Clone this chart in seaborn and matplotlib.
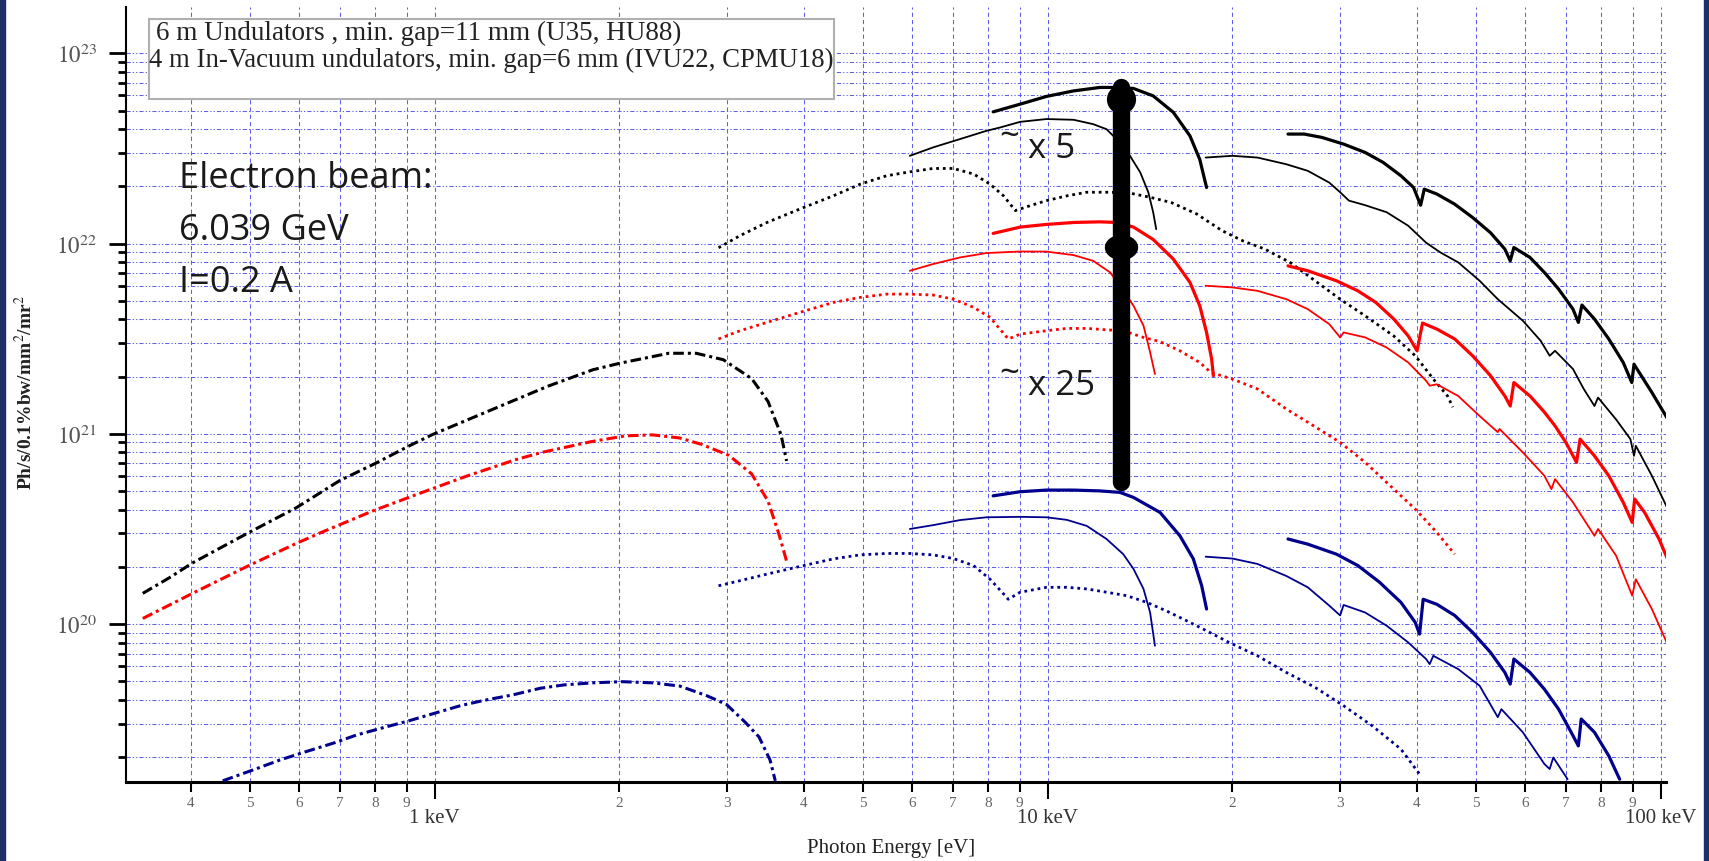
import numpy as np
import matplotlib
matplotlib.use('Agg')
import matplotlib.pyplot as plt
from matplotlib.patches import Rectangle
from matplotlib.ticker import FixedLocator, FuncFormatter, NullFormatter
import seaborn as sns

# values: photon energy [eV], brightness [Ph/s/0.1%bw/mm2/mr2]

# 6 m undulators, low energy (dash-dot)
bk_dashdot_e = [334, 370, 402, 493, 594, 700, 801, 906, 991, 1274, 1531, 1811, 2006, 2410, 2669, 2957, 3289, 3497, 3672, 3750]
bk_dashdot_b = [1.45e20, 1.76e20, 2.09e20, 2.98e20, 4.08e20, 5.68e20, 7.0e20, 8.6e20, 9.9e20, 1.39e21, 1.78e21, 2.17e21,
                2.35e21, 2.65e21, 2.65e21, 2.45e21, 1.95e21, 1.48e21, 9.9e20, 7.2e20]
rd_dashdot_e = [334, 406, 499, 594, 645, 792, 933, 1127, 1353, 1499, 1802, 2046, 2266, 2512, 2724, 3019, 3289, 3497, 3642, 3750]
rd_dashdot_b = [1.07e20, 1.47e20, 2.04e20, 2.65e20, 2.98e20, 3.93e20, 4.79e20, 5.99e20, 7.3e20, 8.0e20, 9.1e20, 9.75e20,
                9.87e20, 9.5e20, 8.8e20, 7.7e20, 6.15e20, 4.43e20, 2.98e20, 2.14e20]
bl_dashdot_e = [451, 505, 559, 612, 687, 745, 826, 907, 1000, 1103, 1207, 1343, 1487, 1626, 1811, 2022, 2266, 2512, 2780,
                2992, 3206, 3381, 3524, 3594]
bl_dashdot_b = [1.50e19, 1.71e19, 1.93e19, 2.12e19, 2.38e19, 2.61e19, 2.86e19, 3.10e19, 3.40e19, 3.73e19, 3.98e19, 4.25e19,
                4.60e19, 4.79e19, 4.91e19, 4.98e19, 4.91e19, 4.72e19, 4.2e19, 3.78e19, 3.06e19, 2.55e19, 1.93e19, 1.50e19]

# dotted curves
dot_e = [2904, 3148, 3483, 3945, 4467, 4943, 5458, 5957, 6501, 7015, 7568, 8054]
bk_dot_e = dot_e + [8472, 8854, 9354, 9954, 10740, 11580, 12640, 13620, 14690, 15920, 17500, 19230, 20850, 22600,
                    24840, 27300, 29990, 32940, 36670, 39780, 42560, 44900, 45800]
bk_dot_b = [9.5e21, 1.10e22, 1.29e22, 1.52e22, 1.78e22, 2.05e22, 2.27e22, 2.38e22, 2.48e22, 2.48e22, 2.32e22, 2.05e22,
            1.78e22, 1.49e22, 1.58e22, 1.68e22, 1.78e22, 1.86e22, 1.86e22, 1.84e22, 1.75e22, 1.64e22, 1.43e22, 1.17e22,
            1.03e22, 9.35e21, 7.96e21, 6.37e21, 5.10e21, 4.17e21, 3.27e21, 2.57e21, 1.94e21, 1.58e21, 1.38e21]
rd_dot_e = dot_e + [8356, 8621, 9016, 9954, 10740, 11580, 12470, 13280, 14320, 15250, 16430, 17700, 18460, 20010,
                    21990, 24500, 26560, 29990, 32950, 36690, 39770, 43130, 46120]
rd_dot_b = [3.15e21, 3.48e21, 3.85e21, 4.35e21, 4.90e21, 5.21e21, 5.42e21, 5.42e21, 5.36e21, 5.10e21, 4.62e21, 4.09e21,
            3.55e21, 3.15e21, 3.34e21, 3.48e21, 3.58e21, 3.58e21, 3.52e21, 3.48e21, 3.21e21, 3.05e21, 2.73e21, 2.37e21,
            2.10e21, 1.94e21, 1.72e21, 1.35e21, 1.15e21, 9.01e20, 7.08e20, 5.12e20, 4.02e20, 3.03e20, 2.33e20]
bl_dot_e = dot_e + [8472, 8621, 9016, 9954, 10740, 11580, 12470, 13450, 14510, 15640, 16860, 18160, 19750, 21990,
                    24500, 27290, 30390, 33830, 37690, 40580]
bl_dot_b = [1.59e20, 1.69e20, 1.83e20, 2.01e20, 2.20e20, 2.31e20, 2.35e20, 2.35e20, 2.31e20, 2.21e20, 2.03e20, 1.72e20,
            1.44e20, 1.35e20, 1.47e20, 1.56e20, 1.56e20, 1.53e20, 1.47e20, 1.41e20, 1.30e20, 1.17e20, 1.04e20, 9.22e19,
            8.01e19, 6.81e19, 5.57e19, 4.65e19, 3.72e19, 2.92e19, 2.20e19, 1.60e19]

# in-vacuum undulators, thick solid (8-18 keV)
thick1_e = [8147, 9016, 9954, 11020, 12160, 13120, 13800, 14860, 16030, 17060, 17700, 18160]
bk_thick1_b = [4.92e22, 5.40e22, 5.93e22, 6.34e22, 6.61e22, 6.61e22, 6.53e22, 5.97e22, 4.89e22, 3.68e22, 2.77e22, 1.97e22]
rd_thick1_e = [8147, 9016, 9954, 11020, 12160, 12970, 13800, 14860, 16030, 17060, 17700, 18160, 18510, 18630]
rd_thick1_b = [1.13e22, 1.22e22, 1.26e22, 1.29e22, 1.30e22, 1.29e22, 1.22e22, 1.05e22, 8.28e21, 6.25e21, 4.71e21,
               3.41e21, 2.47e21, 2.02e21]
bl_thick1_e = [8147, 9016, 9954, 11020, 12160, 13120, 13800, 15250, 16430, 17280, 17830, 18160]
bl_thick1_b = [4.72e20, 4.96e20, 5.06e20, 5.06e20, 5.01e20, 4.92e20, 4.63e20, 3.86e20, 2.91e20, 2.20e20, 1.59e20, 1.20e20]

# thin solid (6-15 keV)
bk_thin1_e = [5957, 6501, 7194, 7943, 8356, 9016, 9954, 11020, 11860, 12470, 12790, 13620, 14160, 14590, 14860, 15030]
bk_thin1_b = [2.89e22, 3.20e22, 3.54e22, 3.91e22, 4.07e22, 4.36e22, 4.51e22, 4.47e22, 4.24e22, 3.99e22, 3.68e22,
              2.89e22, 2.36e22, 1.86e22, 1.46e22, 1.19e22]
rd_thin1_e = [5957, 6501, 7194, 7943, 9016, 9954, 11020, 11860, 12640, 13120, 13800, 14330, 14690, 14960]
rd_thin1_b = [7.19e21, 7.80e21, 8.45e21, 8.91e21, 9.08e21, 9.07e21, 8.69e21, 8.11e21, 7.05e21, 6.00e21, 4.71e21,
              3.70e21, 2.68e21, 2.06e21]
bl_thin1_e = [5957, 6501, 7194, 7943, 9016, 9954, 10740, 11580, 12470, 13280, 13800, 14330, 14690, 14960]
bl_thin1_b = [3.16e20, 3.31e20, 3.52e20, 3.64e20, 3.66e20, 3.64e20, 3.53e20, 3.28e20, 2.80e20, 2.33e20, 1.95e20,
              1.53e20, 1.15e20, 7.69e19]

# higher harmonics, thick solid (25-100 keV)
bk_thick2_e = [24660, 26200, 28020, 30390, 32950, 35240, 37690, 39520, 40580, 41140, 43130, 46120, 49330, 52760, 55680,
               56820, 57600, 61190, 64590, 68140, 71920, 73390, 74380, 77960, 82270, 86860, 89700, 90450, 96720, 103400]
bk_thick2_b = [3.76e22, 3.76e22, 3.61e22, 3.33e22, 3.01e22, 2.67e22, 2.27e22, 1.97e22, 1.59e22, 1.93e22, 1.82e22,
               1.61e22, 1.37e22, 1.14e22, 9.35e21, 8.11e21, 9.53e21, 8.45e21, 7.05e21, 5.76e21, 4.52e21, 3.85e21,
               4.75e21, 4.01e21, 3.15e21, 2.37e21, 1.86e21, 2.32e21, 1.65e21, 1.15e21]
rd_thick2_e = [24660, 26560, 29580, 32060, 34300, 36690, 38730, 40040, 40870, 43130, 46120, 49330, 52760, 55680, 56820,
               57600, 61190, 64590, 67240, 70020, 72880, 73870, 77960, 82270, 86860, 89840, 90670, 94120, 99360, 103400]
rd_thick2_b = [7.63e21, 7.19e21, 6.37e21, 5.64e21, 4.90e21, 4.01e21, 3.27e21, 2.73e21, 3.82e21, 3.55e21, 3.15e21,
               2.57e21, 2.02e21, 1.58e21, 1.40e21, 1.86e21, 1.58e21, 1.30e21, 1.10e21, 9.01e20, 7.08e20, 9.38e20,
               7.66e20, 6.02e20, 4.36e20, 3.42e20, 4.54e20, 3.86e20, 2.80e20, 2.07e20]
bl_thick2_e = [24660, 26560, 29580, 32060, 34770, 37690, 39770, 40420, 40970, 43130, 46120, 49330, 52760, 55680, 56820,
               57600, 61190, 64590, 68140, 71430, 73390, 74180, 77960, 82270, 85700]
bl_thick2_b = [2.80e20, 2.63e20, 2.33e20, 2.03e20, 1.66e20, 1.30e20, 1.02e20, 8.86e19, 1.35e20, 1.27e20, 1.11e20,
               9.04e19, 7.10e19, 5.57e19, 4.84e19, 6.55e19, 5.57e19, 4.55e19, 3.57e19, 2.70e19, 2.29e19, 3.17e19,
               2.70e19, 2.03e19, 1.53e19]

# higher harmonics, thin solid (18-100 keV)
bk_thin2_e = [18100, 20010, 21990, 24500, 26560, 28790, 29990, 31000, 32950, 35720, 38730, 41420, 43700, 46730, 50650,
              54220, 59570, 63710, 65890, 67240, 71920, 74890, 77960, 79020, 84550, 89230, 90450, 91060, 96720, 102700]
bk_thin2_b = [2.83e22, 2.89e22, 2.83e22, 2.61e22, 2.41e22, 2.09e22, 1.86e22, 1.68e22, 1.59e22, 1.46e22, 1.24e22,
              1.01e22, 8.98e21, 7.96e21, 6.37e21, 5.10e21, 3.93e21, 3.08e21, 2.57e21, 2.73e21, 2.19e21, 1.72e21,
              1.40e21, 1.55e21, 1.19e21, 9.38e20, 7.66e20, 8.65e20, 6.02e20, 4.02e20]
rd_thin2_e = [18100, 20010, 21990, 24500, 26560, 28790, 29990, 30390, 32950, 35720, 38730, 41420, 41980, 43130, 46730,
              50650, 54220, 54580, 59570, 64590, 66330, 67240, 71920, 77960, 79020, 84550, 89840, 91060, 96720, 103400]
rd_thin2_b = [6.00e21, 5.88e21, 5.64e21, 5.10e21, 4.52e21, 3.77e21, 3.21e21, 3.41e21, 3.21e21, 2.84e21, 2.37e21,
              1.90e21, 1.79e21, 1.82e21, 1.58e21, 1.24e21, 1.02e21, 1.06e21, 7.98e20, 6.02e20, 5.12e20, 5.78e20,
              4.36e20, 2.91e20, 3.16e20, 2.29e20, 1.41e20, 1.72e20, 1.20e20, 7.39e19]
bl_thin2_e = [18100, 20010, 21990, 24500, 26560, 28790, 29990, 30390, 32950, 35720, 38730, 41420, 41980, 42560, 46730,
              50650, 54220, 54960, 59570, 64590, 65890, 66790, 70480]
bl_thin2_b = [2.26e20, 2.21e20, 2.07e20, 1.79e20, 1.56e20, 1.25e20, 1.11e20, 1.26e20, 1.15e20, 9.80e19, 8.01e19,
              6.55e19, 6.16e19, 6.81e19, 5.80e19, 4.74e19, 3.24e19, 3.57e19, 2.70e19, 1.84e19, 1.73e19, 1.99e19, 1.53e19]

# the big arrow (~x5, ~x25)
arrow_e = 13150
arrow_top, arrow_mid, arrow_bottom = 6.64e22, 9.64e21, 5.57e20
arrow_head = 5.74e22

legend_lines = ['6 m Undulators , min. gap=11 mm (U35, HU88)',
                '4 m In-Vacuum undulators, min. gap=6 mm (IVU22, CPMU18)']
beam_lines = ['Electron beam:', '6.039 GeV', 'I=0.2 A']

BLACK, RED, BLUE = '#000000', '#ff0000', '#00008c'
styles = {
    'dashdot': dict(lw=2.2, linestyle=(0, (3.5, 1.3, 1, 1.3))),
    'dot': dict(lw=2.0, linestyle=(0, (1, 1.4))),
    'thick': dict(lw=2.3, linestyle='-'),
    'thin': dict(lw=1.3, linestyle='-'),
}
curves = [
    (bk_dashdot_e, bk_dashdot_b, BLACK, 'dashdot'), (rd_dashdot_e, rd_dashdot_b, RED, 'dashdot'),
    (bl_dashdot_e, bl_dashdot_b, BLUE, 'dashdot'),
    (bk_dot_e, bk_dot_b, BLACK, 'dot'), (rd_dot_e, rd_dot_b, RED, 'dot'), (bl_dot_e, bl_dot_b, BLUE, 'dot'),
    (thick1_e, bk_thick1_b, BLACK, 'thick'), (rd_thick1_e, rd_thick1_b, RED, 'thick'),
    (bl_thick1_e, bl_thick1_b, BLUE, 'thick'),
    (bk_thin1_e, bk_thin1_b, BLACK, 'thin'), (rd_thin1_e, rd_thin1_b, RED, 'thin'), (bl_thin1_e, bl_thin1_b, BLUE, 'thin'),
    (bk_thick2_e, bk_thick2_b, BLACK, 'thick'), (rd_thick2_e, rd_thick2_b, RED, 'thick'),
    (bl_thick2_e, bl_thick2_b, BLUE, 'thick'),
    (bk_thin2_e, bk_thin2_b, BLACK, 'thin'), (rd_thin2_e, rd_thin2_b, RED, 'thin'), (bl_thin2_e, bl_thin2_b, BLUE, 'thin'),
]

sns.set_style('white')
plt.rcParams['font.family'] = ['Liberation Serif', 'DejaVu Serif']
plt.rcParams['mathtext.fontset'] = 'stix'

fig = plt.figure(figsize=(17.09, 8.62), dpi=100)
ax = fig.add_axes([0.07373, 0.09165, 0.90111, 0.89907])
ax.set_xscale('log')
ax.set_yscale('log')

for e, b, c, s in curves:
    sns.lineplot(x=np.asarray(e, float), y=np.asarray(b, float), ax=ax, color=c, sort=False, estimator=None,
                 legend=False, zorder=3, **styles[s])

# arrow
ax.plot([arrow_e, arrow_e], [arrow_top, arrow_bottom], color='black', lw=12.5, solid_capstyle='round', zorder=6)
ax.plot([arrow_e], [arrow_head], marker='o', ms=21, color='black', mew=0, zorder=6)
t = np.linspace(0, 2 * np.pi, 60)
ellipse = list(zip(np.cos(t), 0.76 * np.sin(t)))
ax.plot([arrow_e], [arrow_mid], marker=ellipse, ms=24, color='black', mew=0, zorder=6)

ax.set_xlim(313.6, 102000)
ax.set_ylim(1.479e19, 1.75e23)

# ticks
ax.xaxis.set_major_locator(FixedLocator([1e3, 1e4, 1e5]))
ax.xaxis.set_major_formatter(FuncFormatter(lambda v, p: {3: '1 keV', 4: '10 keV', 5: '100 keV'}.get(int(round(np.log10(v))), '')))
xminor = [k * 10.0 ** d for d in (2, 3, 4) for k in range(2, 10)]
ax.xaxis.set_minor_locator(FixedLocator(xminor))
ax.xaxis.set_minor_formatter(FuncFormatter(lambda v, p: str(int(round(v / 10.0 ** np.floor(np.log10(v) + 1e-9))))))
ax.yaxis.set_major_locator(FixedLocator([1e19, 1e20, 1e21, 1e22, 1e23]))
ax.yaxis.set_major_formatter(FuncFormatter(lambda v, p: r'$10^{%d}$' % round(np.log10(v))))
ax.yaxis.set_minor_locator(FixedLocator([k * 10.0 ** d for d in (19, 20, 21, 22) for k in range(2, 10)]))
ax.yaxis.set_minor_formatter(NullFormatter())

ax.tick_params(axis='x', which='major', length=12, width=1.5, pad=7, labelsize=15, labelcolor='#333333', color='black')
ax.tick_params(axis='x', which='minor', length=7, width=1.5, pad=3, labelsize=11, labelcolor='#666666', color='black')
ax.tick_params(axis='y', which='major', length=12, width=2, pad=9, labelsize=16.5, labelcolor='#555555', color='black')
ax.tick_params(axis='y', which='minor', length=5.5, width=2, color='black')
ax.tick_params(bottom=True, left=True, which='both')

ax.xaxis.grid(True, which='both', color='#6060ee', lw=0.75, linestyle=(0, (4, 3)))
ax.yaxis.grid(True, which='both', color='#6060ee', lw=0.75, linestyle=(0, (4, 2, 1.2, 2, 1.2, 2)))
ax.set_axisbelow(True)

for side in ('top', 'right'):
    ax.spines[side].set_visible(False)
ax.spines['left'].set_linewidth(1.5)
ax.spines['bottom'].set_linewidth(2.2)
ax.spines['left'].set_color('black')
ax.spines['bottom'].set_color('black')

ax.set_xlabel('Photon Energy [eV]', fontsize=15, color='#222222')
ax.xaxis.set_label_coords(0.4968, -0.072)
ax.set_ylabel('Ph/s/0.1%bw/mm$^2$/mr$^2$', fontsize=14, fontweight='bold', color='#222222')
ax.yaxis.set_label_coords(-0.0584, 0.5045)

# legend-like text box
ax.add_patch(Rectangle((0.0149, 0.8813), 0.4448, 0.1032, transform=ax.transAxes, facecolor='white',
                       edgecolor='#b0b0b0', lw=1.5, zorder=5))
ax.text(0.0195, 0.9587, legend_lines[0], transform=ax.transAxes, fontsize=19.5, va='baseline', color='#222222', zorder=7)
ax.text(0.0149, 0.9239, legend_lines[1], transform=ax.transAxes, fontsize=19.3, va='baseline', color='#222222', zorder=7)

sans = ['Open Sans', 'DejaVu Sans']
for txt, yb in zip(beam_lines, [0.7677, 0.7006, 0.6335]):
    ax.text(0.0344, yb, txt, transform=ax.transAxes, fontsize=26, family=sans, va='baseline', color='#1a1a1a')

ax.text(0.5857, 0.8065, 'x 5', transform=ax.transAxes, fontsize=25, family=sans, va='baseline', color='#1a1a1a', zorder=7)
ax.text(0.5734, 0.8335, '~', transform=ax.transAxes, fontsize=25, family=sans, ha='center', va='center',
        color='#1a1a1a', zorder=7)
ax.text(0.5857, 0.5006, 'x 25', transform=ax.transAxes, fontsize=25, family=sans, va='baseline', color='#1a1a1a', zorder=7)
ax.text(0.5734, 0.5277, '~', transform=ax.transAxes, fontsize=25, family=sans, ha='center', va='center',
        color='#1a1a1a', zorder=7)

# slide borders
fig.add_artist(Rectangle((0, 0), 5 / 1709, 1, transform=fig.transFigure, color='#1d2f66'))
fig.add_artist(Rectangle((1704 / 1709, 0), 5 / 1709, 1, transform=fig.transFigure, color='#1d2f66'))

fig.savefig('out.png', dpi=100)
